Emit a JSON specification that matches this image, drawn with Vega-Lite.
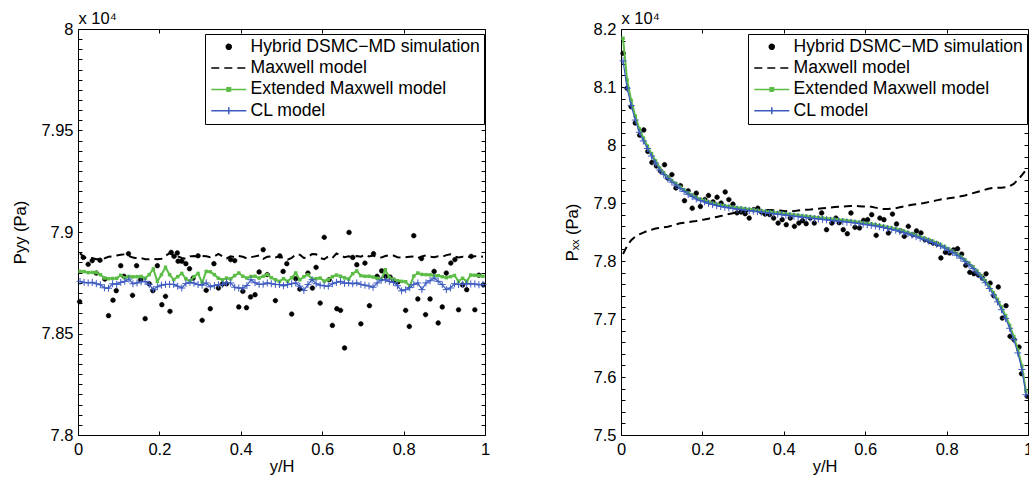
{
"$schema":"https://vega.github.io/schema/vega-lite/v6.json",
"padding":{"left":12,"top":10,"right":0,"bottom":0},
"config":{"font":"Liberation Sans","view":{"stroke":null},
"axis":{"grid":false,"labelColor":"black","titleColor":"black","domainColor":"black","tickColor":"black","labelFontSize":16.5,"titleFontSize":16.5,"titleFontWeight":"normal","labelFont":"Liberation Sans","titleFont":"Liberation Sans","domainWidth":1,"tickWidth":1,"labelOverlap":false,"labelBound":false,"labelFlush":false},
"legend":{"strokeColor":"black","fillColor":"white","padding":4,"labelFontSize":17.6,"labelColor":"black","labelFont":"Liberation Sans","rowPadding":2.3,"symbolOffset":11,"labelOffset":13,"symbolSize":100,"labelLimit":400,"symbolStrokeWidth":1.5,"symbolOpacity":1}},
"datasets":{
"yyPts":[{"s":"Hybrid DSMC−MD simulation","x":0.004,"p":7.8657},{"s":"Hybrid DSMC−MD simulation","x":0.013,"p":7.8875},{"s":"Hybrid DSMC−MD simulation","x":0.025,"p":7.8841},{"s":"Hybrid DSMC−MD simulation","x":0.035,"p":7.8859},{"s":"Hybrid DSMC−MD simulation","x":0.045,"p":7.8798},{"s":"Hybrid DSMC−MD simulation","x":0.054,"p":7.8861},{"s":"Hybrid DSMC−MD simulation","x":0.066,"p":7.8768},{"s":"Hybrid DSMC−MD simulation","x":0.075,"p":7.8588},{"s":"Hybrid DSMC−MD simulation","x":0.086,"p":7.8664},{"s":"Hybrid DSMC−MD simulation","x":0.094,"p":7.8711},{"s":"Hybrid DSMC−MD simulation","x":0.105,"p":7.8834},{"s":"Hybrid DSMC−MD simulation","x":0.113,"p":7.8782},{"s":"Hybrid DSMC−MD simulation","x":0.124,"p":7.8893},{"s":"Hybrid DSMC−MD simulation","x":0.134,"p":7.8688},{"s":"Hybrid DSMC−MD simulation","x":0.144,"p":7.8834},{"s":"Hybrid DSMC−MD simulation","x":0.154,"p":7.8765},{"s":"Hybrid DSMC−MD simulation","x":0.165,"p":7.8573},{"s":"Hybrid DSMC−MD simulation","x":0.175,"p":7.8745},{"s":"Hybrid DSMC−MD simulation","x":0.184,"p":7.8711},{"s":"Hybrid DSMC−MD simulation","x":0.195,"p":7.8834},{"s":"Hybrid DSMC−MD simulation","x":0.206,"p":7.8642},{"s":"Hybrid DSMC−MD simulation","x":0.215,"p":7.8683},{"s":"Hybrid DSMC−MD simulation","x":0.226,"p":7.8609},{"s":"Hybrid DSMC−MD simulation","x":0.229,"p":7.89},{"s":"Hybrid DSMC−MD simulation","x":0.236,"p":7.888},{"s":"Hybrid DSMC−MD simulation","x":0.244,"p":7.8897},{"s":"Hybrid DSMC−MD simulation","x":0.246,"p":7.8856},{"s":"Hybrid DSMC−MD simulation","x":0.255,"p":7.8856},{"s":"Hybrid DSMC−MD simulation","x":0.265,"p":7.8844},{"s":"Hybrid DSMC−MD simulation","x":0.274,"p":7.8819},{"s":"Hybrid DSMC−MD simulation","x":0.283,"p":7.8773},{"s":"Hybrid DSMC−MD simulation","x":0.295,"p":7.8883},{"s":"Hybrid DSMC−MD simulation","x":0.305,"p":7.8565},{"s":"Hybrid DSMC−MD simulation","x":0.315,"p":7.8713},{"s":"Hybrid DSMC−MD simulation","x":0.325,"p":7.8622},{"s":"Hybrid DSMC−MD simulation","x":0.334,"p":7.8844},{"s":"Hybrid DSMC−MD simulation","x":0.345,"p":7.8724},{"s":"Hybrid DSMC−MD simulation","x":0.355,"p":7.8744},{"s":"Hybrid DSMC−MD simulation","x":0.365,"p":7.8745},{"s":"Hybrid DSMC−MD simulation","x":0.375,"p":7.8864},{"s":"Hybrid DSMC−MD simulation","x":0.385,"p":7.8859},{"s":"Hybrid DSMC−MD simulation","x":0.395,"p":7.8631},{"s":"Hybrid DSMC−MD simulation","x":0.405,"p":7.8708},{"s":"Hybrid DSMC−MD simulation","x":0.414,"p":7.8627},{"s":"Hybrid DSMC−MD simulation","x":0.424,"p":7.868},{"s":"Hybrid DSMC−MD simulation","x":0.435,"p":7.8691},{"s":"Hybrid DSMC−MD simulation","x":0.445,"p":7.8803},{"s":"Hybrid DSMC−MD simulation","x":0.455,"p":7.8913},{"s":"Hybrid DSMC−MD simulation","x":0.465,"p":7.879},{"s":"Hybrid DSMC−MD simulation","x":0.485,"p":7.8662},{"s":"Hybrid DSMC−MD simulation","x":0.496,"p":7.8882},{"s":"Hybrid DSMC−MD simulation","x":0.504,"p":7.8806},{"s":"Hybrid DSMC−MD simulation","x":0.513,"p":7.8844},{"s":"Hybrid DSMC−MD simulation","x":0.525,"p":7.8596},{"s":"Hybrid DSMC−MD simulation","x":0.535,"p":7.877},{"s":"Hybrid DSMC−MD simulation","x":0.545,"p":7.8719},{"s":"Hybrid DSMC−MD simulation","x":0.565,"p":7.8798},{"s":"Hybrid DSMC−MD simulation","x":0.576,"p":7.8724},{"s":"Hybrid DSMC−MD simulation","x":0.585,"p":7.8826},{"s":"Hybrid DSMC−MD simulation","x":0.595,"p":7.865},{"s":"Hybrid DSMC−MD simulation","x":0.605,"p":7.8974},{"s":"Hybrid DSMC−MD simulation","x":0.617,"p":7.8765},{"s":"Hybrid DSMC−MD simulation","x":0.625,"p":7.854},{"s":"Hybrid DSMC−MD simulation","x":0.636,"p":7.8622},{"s":"Hybrid DSMC−MD simulation","x":0.645,"p":7.8614},{"s":"Hybrid DSMC−MD simulation","x":0.655,"p":7.8429},{"s":"Hybrid DSMC−MD simulation","x":0.666,"p":7.8998},{"s":"Hybrid DSMC−MD simulation","x":0.675,"p":7.8875},{"s":"Hybrid DSMC−MD simulation","x":0.685,"p":7.8839},{"s":"Hybrid DSMC−MD simulation","x":0.695,"p":7.8548},{"s":"Hybrid DSMC−MD simulation","x":0.705,"p":7.8847},{"s":"Hybrid DSMC−MD simulation","x":0.716,"p":7.8637},{"s":"Hybrid DSMC−MD simulation","x":0.726,"p":7.8893},{"s":"Hybrid DSMC−MD simulation","x":0.735,"p":7.8782},{"s":"Hybrid DSMC−MD simulation","x":0.746,"p":7.8809},{"s":"Hybrid DSMC−MD simulation","x":0.756,"p":7.8782},{"s":"Hybrid DSMC−MD simulation","x":0.767,"p":7.8778},{"s":"Hybrid DSMC−MD simulation","x":0.776,"p":7.8762},{"s":"Hybrid DSMC−MD simulation","x":0.786,"p":7.8754},{"s":"Hybrid DSMC−MD simulation","x":0.805,"p":7.8614},{"s":"Hybrid DSMC−MD simulation","x":0.814,"p":7.8535},{"s":"Hybrid DSMC−MD simulation","x":0.825,"p":7.8982},{"s":"Hybrid DSMC−MD simulation","x":0.835,"p":7.867},{"s":"Hybrid DSMC−MD simulation","x":0.844,"p":7.8869},{"s":"Hybrid DSMC−MD simulation","x":0.854,"p":7.8593},{"s":"Hybrid DSMC−MD simulation","x":0.865,"p":7.867},{"s":"Hybrid DSMC−MD simulation","x":0.875,"p":7.8806},{"s":"Hybrid DSMC−MD simulation","x":0.885,"p":7.8552},{"s":"Hybrid DSMC−MD simulation","x":0.895,"p":7.8631},{"s":"Hybrid DSMC−MD simulation","x":0.905,"p":7.8798},{"s":"Hybrid DSMC−MD simulation","x":0.916,"p":7.8847},{"s":"Hybrid DSMC−MD simulation","x":0.926,"p":7.8864},{"s":"Hybrid DSMC−MD simulation","x":0.935,"p":7.8617},{"s":"Hybrid DSMC−MD simulation","x":0.945,"p":7.8739},{"s":"Hybrid DSMC−MD simulation","x":0.955,"p":7.8716},{"s":"Hybrid DSMC−MD simulation","x":0.966,"p":7.888},{"s":"Hybrid DSMC−MD simulation","x":0.975,"p":7.8617},{"s":"Hybrid DSMC−MD simulation","x":0.985,"p":7.8787},{"s":"Hybrid DSMC−MD simulation","x":0.996,"p":7.874}],
"yyMax":[{"x":0.005,"p":7.8895},{"x":0.015,"p":7.8875},{"x":0.025,"p":7.8868},{"x":0.035,"p":7.8872},{"x":0.045,"p":7.8866},{"x":0.055,"p":7.8868},{"x":0.065,"p":7.887},{"x":0.075,"p":7.8878},{"x":0.085,"p":7.888},{"x":0.095,"p":7.8884},{"x":0.105,"p":7.8888},{"x":0.115,"p":7.889},{"x":0.125,"p":7.8882},{"x":0.135,"p":7.8874},{"x":0.145,"p":7.887},{"x":0.155,"p":7.8872},{"x":0.165,"p":7.8866},{"x":0.175,"p":7.8866},{"x":0.185,"p":7.8868},{"x":0.195,"p":7.8866},{"x":0.205,"p":7.8868},{"x":0.215,"p":7.8882},{"x":0.225,"p":7.8896},{"x":0.235,"p":7.8884},{"x":0.245,"p":7.888},{"x":0.255,"p":7.8872},{"x":0.265,"p":7.8868},{"x":0.275,"p":7.888},{"x":0.285,"p":7.8882},{"x":0.295,"p":7.8878},{"x":0.305,"p":7.8882},{"x":0.315,"p":7.888},{"x":0.325,"p":7.8876},{"x":0.335,"p":7.888},{"x":0.345,"p":7.8892},{"x":0.355,"p":7.888},{"x":0.365,"p":7.887},{"x":0.375,"p":7.888},{"x":0.385,"p":7.8876},{"x":0.395,"p":7.8882},{"x":0.405,"p":7.8878},{"x":0.415,"p":7.887},{"x":0.425,"p":7.8876},{"x":0.435,"p":7.888},{"x":0.445,"p":7.8884},{"x":0.455,"p":7.8868},{"x":0.465,"p":7.8878},{"x":0.475,"p":7.888},{"x":0.485,"p":7.8874},{"x":0.495,"p":7.888},{"x":0.505,"p":7.887},{"x":0.515,"p":7.8864},{"x":0.525,"p":7.8872},{"x":0.535,"p":7.889},{"x":0.545,"p":7.8888},{"x":0.555,"p":7.8872},{"x":0.565,"p":7.8876},{"x":0.575,"p":7.8892},{"x":0.585,"p":7.889},{"x":0.595,"p":7.8872},{"x":0.605,"p":7.8866},{"x":0.615,"p":7.888},{"x":0.625,"p":7.8872},{"x":0.635,"p":7.8894},{"x":0.645,"p":7.8884},{"x":0.655,"p":7.8876},{"x":0.665,"p":7.888},{"x":0.675,"p":7.8876},{"x":0.685,"p":7.8882},{"x":0.695,"p":7.8878},{"x":0.705,"p":7.8888},{"x":0.715,"p":7.888},{"x":0.725,"p":7.8884},{"x":0.735,"p":7.8878},{"x":0.745,"p":7.8874},{"x":0.755,"p":7.8882},{"x":0.765,"p":7.8886},{"x":0.775,"p":7.8884},{"x":0.785,"p":7.8876},{"x":0.795,"p":7.8874},{"x":0.805,"p":7.8876},{"x":0.815,"p":7.8878},{"x":0.825,"p":7.888},{"x":0.835,"p":7.8872},{"x":0.845,"p":7.888},{"x":0.855,"p":7.8884},{"x":0.865,"p":7.8878},{"x":0.875,"p":7.8876},{"x":0.885,"p":7.888},{"x":0.895,"p":7.8878},{"x":0.905,"p":7.8886},{"x":0.915,"p":7.889},{"x":0.925,"p":7.888},{"x":0.935,"p":7.8874},{"x":0.945,"p":7.8878},{"x":0.955,"p":7.8876},{"x":0.965,"p":7.8878},{"x":0.975,"p":7.888},{"x":0.985,"p":7.8882},{"x":0.995,"p":7.8878}],
"yyExt":[{"x":0.005,"p":7.8806},{"x":0.015,"p":7.8805},{"x":0.025,"p":7.88},{"x":0.035,"p":7.8801},{"x":0.045,"p":7.88},{"x":0.055,"p":7.879},{"x":0.065,"p":7.8773},{"x":0.075,"p":7.877},{"x":0.085,"p":7.8771},{"x":0.095,"p":7.8772},{"x":0.105,"p":7.8787},{"x":0.115,"p":7.8774},{"x":0.125,"p":7.8781},{"x":0.135,"p":7.8779},{"x":0.145,"p":7.878},{"x":0.155,"p":7.8781},{"x":0.165,"p":7.8772},{"x":0.175,"p":7.879},{"x":0.185,"p":7.8818},{"x":0.195,"p":7.8757},{"x":0.205,"p":7.879},{"x":0.215,"p":7.8826},{"x":0.225,"p":7.879},{"x":0.235,"p":7.8765},{"x":0.245,"p":7.878},{"x":0.255,"p":7.8796},{"x":0.265,"p":7.877},{"x":0.275,"p":7.8757},{"x":0.285,"p":7.878},{"x":0.295,"p":7.8796},{"x":0.305,"p":7.875},{"x":0.315,"p":7.8806},{"x":0.325,"p":7.8804},{"x":0.335,"p":7.879},{"x":0.345,"p":7.8772},{"x":0.355,"p":7.8765},{"x":0.365,"p":7.8773},{"x":0.375,"p":7.8769},{"x":0.385,"p":7.8785},{"x":0.395,"p":7.8798},{"x":0.405,"p":7.8782},{"x":0.415,"p":7.8773},{"x":0.425,"p":7.8781},{"x":0.435,"p":7.8782},{"x":0.445,"p":7.8773},{"x":0.455,"p":7.8782},{"x":0.465,"p":7.879},{"x":0.475,"p":7.8775},{"x":0.485,"p":7.8765},{"x":0.495,"p":7.8757},{"x":0.505,"p":7.877},{"x":0.515,"p":7.8757},{"x":0.525,"p":7.8775},{"x":0.535,"p":7.8798},{"x":0.545,"p":7.8765},{"x":0.555,"p":7.878},{"x":0.565,"p":7.879},{"x":0.575,"p":7.8768},{"x":0.585,"p":7.877},{"x":0.595,"p":7.8773},{"x":0.605,"p":7.8758},{"x":0.615,"p":7.8766},{"x":0.625,"p":7.878},{"x":0.635,"p":7.8788},{"x":0.645,"p":7.8782},{"x":0.655,"p":7.8774},{"x":0.665,"p":7.8768},{"x":0.675,"p":7.8795},{"x":0.685,"p":7.8808},{"x":0.695,"p":7.8785},{"x":0.705,"p":7.8782},{"x":0.715,"p":7.8782},{"x":0.725,"p":7.8778},{"x":0.735,"p":7.8772},{"x":0.745,"p":7.8766},{"x":0.755,"p":7.8814},{"x":0.765,"p":7.8776},{"x":0.775,"p":7.8767},{"x":0.785,"p":7.876},{"x":0.795,"p":7.8757},{"x":0.805,"p":7.8755},{"x":0.815,"p":7.8733},{"x":0.825,"p":7.8783},{"x":0.835,"p":7.8798},{"x":0.845,"p":7.8791},{"x":0.855,"p":7.879},{"x":0.865,"p":7.8789},{"x":0.875,"p":7.8785},{"x":0.885,"p":7.8785},{"x":0.895,"p":7.878},{"x":0.905,"p":7.8775},{"x":0.915,"p":7.878},{"x":0.925,"p":7.8786},{"x":0.935,"p":7.8757},{"x":0.945,"p":7.8772},{"x":0.955,"p":7.8757},{"x":0.965,"p":7.8788},{"x":0.975,"p":7.8787},{"x":0.985,"p":7.8785},{"x":0.995,"p":7.8782}],
"yyCL":[{"x":0.005,"p":7.8757},{"x":0.015,"p":7.8752},{"x":0.025,"p":7.8749},{"x":0.035,"p":7.8752},{"x":0.045,"p":7.8745},{"x":0.055,"p":7.874},{"x":0.065,"p":7.8725},{"x":0.075,"p":7.8723},{"x":0.085,"p":7.8745},{"x":0.095,"p":7.8742},{"x":0.105,"p":7.8752},{"x":0.115,"p":7.8757},{"x":0.125,"p":7.8768},{"x":0.135,"p":7.8745},{"x":0.145,"p":7.8749},{"x":0.155,"p":7.8755},{"x":0.165,"p":7.8757},{"x":0.175,"p":7.8742},{"x":0.185,"p":7.8716},{"x":0.195,"p":7.873},{"x":0.205,"p":7.8738},{"x":0.215,"p":7.8742},{"x":0.225,"p":7.8742},{"x":0.235,"p":7.8742},{"x":0.245,"p":7.8733},{"x":0.255,"p":7.8724},{"x":0.265,"p":7.8746},{"x":0.275,"p":7.8752},{"x":0.285,"p":7.8748},{"x":0.295,"p":7.8741},{"x":0.305,"p":7.8738},{"x":0.315,"p":7.8749},{"x":0.325,"p":7.873},{"x":0.335,"p":7.8736},{"x":0.345,"p":7.874},{"x":0.355,"p":7.8742},{"x":0.365,"p":7.8751},{"x":0.375,"p":7.8749},{"x":0.385,"p":7.8728},{"x":0.395,"p":7.8724},{"x":0.405,"p":7.8724},{"x":0.415,"p":7.8736},{"x":0.425,"p":7.8765},{"x":0.435,"p":7.875},{"x":0.445,"p":7.8742},{"x":0.455,"p":7.8743},{"x":0.465,"p":7.8749},{"x":0.475,"p":7.8745},{"x":0.485,"p":7.8742},{"x":0.495,"p":7.8741},{"x":0.505,"p":7.8735},{"x":0.515,"p":7.8741},{"x":0.525,"p":7.8745},{"x":0.535,"p":7.8749},{"x":0.545,"p":7.8733},{"x":0.555,"p":7.8712},{"x":0.565,"p":7.8741},{"x":0.575,"p":7.8765},{"x":0.585,"p":7.8745},{"x":0.595,"p":7.8738},{"x":0.605,"p":7.8735},{"x":0.615,"p":7.8733},{"x":0.625,"p":7.8745},{"x":0.635,"p":7.8752},{"x":0.645,"p":7.8757},{"x":0.655,"p":7.8747},{"x":0.665,"p":7.8749},{"x":0.675,"p":7.8745},{"x":0.685,"p":7.8749},{"x":0.695,"p":7.8742},{"x":0.705,"p":7.8738},{"x":0.715,"p":7.8734},{"x":0.725,"p":7.8728},{"x":0.735,"p":7.8749},{"x":0.745,"p":7.8763},{"x":0.755,"p":7.8765},{"x":0.765,"p":7.8757},{"x":0.775,"p":7.8752},{"x":0.785,"p":7.8735},{"x":0.795,"p":7.871},{"x":0.805,"p":7.8716},{"x":0.815,"p":7.8726},{"x":0.825,"p":7.8742},{"x":0.835,"p":7.8749},{"x":0.845,"p":7.8716},{"x":0.855,"p":7.8749},{"x":0.865,"p":7.876},{"x":0.875,"p":7.8773},{"x":0.885,"p":7.8757},{"x":0.895,"p":7.8741},{"x":0.905,"p":7.8716},{"x":0.915,"p":7.8724},{"x":0.925,"p":7.8745},{"x":0.935,"p":7.8741},{"x":0.945,"p":7.8743},{"x":0.955,"p":7.8745},{"x":0.965,"p":7.8744},{"x":0.975,"p":7.8744},{"x":0.985,"p":7.874},{"x":0.995,"p":7.8742}],
"xxPts":[{"s":"Hybrid DSMC−MD simulation","x":0.005,"p":8.158},{"s":"Hybrid DSMC−MD simulation","x":0.015,"p":8.098},{"s":"Hybrid DSMC−MD simulation","x":0.025,"p":8.066},{"s":"Hybrid DSMC−MD simulation","x":0.035,"p":8.038},{"s":"Hybrid DSMC−MD simulation","x":0.046,"p":8.017},{"s":"Hybrid DSMC−MD simulation","x":0.056,"p":8.026},{"s":"Hybrid DSMC−MD simulation","x":0.066,"p":7.989},{"s":"Hybrid DSMC−MD simulation","x":0.076,"p":7.97},{"s":"Hybrid DSMC−MD simulation","x":0.087,"p":7.964},{"s":"Hybrid DSMC−MD simulation","x":0.097,"p":7.955},{"s":"Hybrid DSMC−MD simulation","x":0.107,"p":7.966},{"s":"Hybrid DSMC−MD simulation","x":0.115,"p":7.943},{"s":"Hybrid DSMC−MD simulation","x":0.125,"p":7.949},{"s":"Hybrid DSMC−MD simulation","x":0.135,"p":7.926},{"s":"Hybrid DSMC−MD simulation","x":0.146,"p":7.93},{"s":"Hybrid DSMC−MD simulation","x":0.156,"p":7.904},{"s":"Hybrid DSMC−MD simulation","x":0.165,"p":7.921},{"s":"Hybrid DSMC−MD simulation","x":0.175,"p":7.891},{"s":"Hybrid DSMC−MD simulation","x":0.185,"p":7.917},{"s":"Hybrid DSMC−MD simulation","x":0.195,"p":7.894},{"s":"Hybrid DSMC−MD simulation","x":0.206,"p":7.906},{"s":"Hybrid DSMC−MD simulation","x":0.215,"p":7.913},{"s":"Hybrid DSMC−MD simulation","x":0.226,"p":7.902},{"s":"Hybrid DSMC−MD simulation","x":0.236,"p":7.91},{"s":"Hybrid DSMC−MD simulation","x":0.246,"p":7.9},{"s":"Hybrid DSMC−MD simulation","x":0.256,"p":7.919},{"s":"Hybrid DSMC−MD simulation","x":0.265,"p":7.906},{"s":"Hybrid DSMC−MD simulation","x":0.275,"p":7.898},{"s":"Hybrid DSMC−MD simulation","x":0.285,"p":7.883},{"s":"Hybrid DSMC−MD simulation","x":0.295,"p":7.8845},{"s":"Hybrid DSMC−MD simulation","x":0.305,"p":7.8816},{"s":"Hybrid DSMC−MD simulation","x":0.315,"p":7.874},{"s":"Hybrid DSMC−MD simulation","x":0.326,"p":7.8885},{"s":"Hybrid DSMC−MD simulation","x":0.336,"p":7.891},{"s":"Hybrid DSMC−MD simulation","x":0.345,"p":7.8845},{"s":"Hybrid DSMC−MD simulation","x":0.354,"p":7.881},{"s":"Hybrid DSMC−MD simulation","x":0.365,"p":7.88},{"s":"Hybrid DSMC−MD simulation","x":0.375,"p":7.874},{"s":"Hybrid DSMC−MD simulation","x":0.386,"p":7.8655},{"s":"Hybrid DSMC−MD simulation","x":0.396,"p":7.8713},{"s":"Hybrid DSMC−MD simulation","x":0.406,"p":7.8626},{"s":"Hybrid DSMC−MD simulation","x":0.416,"p":7.8741},{"s":"Hybrid DSMC−MD simulation","x":0.426,"p":7.8598},{"s":"Hybrid DSMC−MD simulation","x":0.437,"p":7.8655},{"s":"Hybrid DSMC−MD simulation","x":0.446,"p":7.8695},{"s":"Hybrid DSMC−MD simulation","x":0.455,"p":7.8643},{"s":"Hybrid DSMC−MD simulation","x":0.465,"p":7.8741},{"s":"Hybrid DSMC−MD simulation","x":0.475,"p":7.8655},{"s":"Hybrid DSMC−MD simulation","x":0.493,"p":7.8828},{"s":"Hybrid DSMC−MD simulation","x":0.505,"p":7.854},{"s":"Hybrid DSMC−MD simulation","x":0.518,"p":7.8655},{"s":"Hybrid DSMC−MD simulation","x":0.528,"p":7.8741},{"s":"Hybrid DSMC−MD simulation","x":0.536,"p":7.866},{"s":"Hybrid DSMC−MD simulation","x":0.546,"p":7.854},{"s":"Hybrid DSMC−MD simulation","x":0.556,"p":7.847},{"s":"Hybrid DSMC−MD simulation","x":0.565,"p":7.8828},{"s":"Hybrid DSMC−MD simulation","x":0.575,"p":7.858},{"s":"Hybrid DSMC−MD simulation","x":0.586,"p":7.857},{"s":"Hybrid DSMC−MD simulation","x":0.596,"p":7.87},{"s":"Hybrid DSMC−MD simulation","x":0.606,"p":7.8713},{"s":"Hybrid DSMC−MD simulation","x":0.616,"p":7.8799},{"s":"Hybrid DSMC−MD simulation","x":0.627,"p":7.8443},{"s":"Hybrid DSMC−MD simulation","x":0.636,"p":7.8741},{"s":"Hybrid DSMC−MD simulation","x":0.646,"p":7.8713},{"s":"Hybrid DSMC−MD simulation","x":0.657,"p":7.8483},{"s":"Hybrid DSMC−MD simulation","x":0.667,"p":7.881},{"s":"Hybrid DSMC−MD simulation","x":0.677,"p":7.8638},{"s":"Hybrid DSMC−MD simulation","x":0.687,"p":7.852},{"s":"Hybrid DSMC−MD simulation","x":0.696,"p":7.8425},{"s":"Hybrid DSMC−MD simulation","x":0.706,"p":7.8598},{"s":"Hybrid DSMC−MD simulation","x":0.717,"p":7.8453},{"s":"Hybrid DSMC−MD simulation","x":0.726,"p":7.852},{"s":"Hybrid DSMC−MD simulation","x":0.737,"p":7.8483},{"s":"Hybrid DSMC−MD simulation","x":0.747,"p":7.8368},{"s":"Hybrid DSMC−MD simulation","x":0.758,"p":7.834},{"s":"Hybrid DSMC−MD simulation","x":0.767,"p":7.831},{"s":"Hybrid DSMC−MD simulation","x":0.777,"p":7.8293},{"s":"Hybrid DSMC−MD simulation","x":0.786,"p":7.8052},{"s":"Hybrid DSMC−MD simulation","x":0.797,"p":7.815},{"s":"Hybrid DSMC−MD simulation","x":0.807,"p":7.8138},{"s":"Hybrid DSMC−MD simulation","x":0.817,"p":7.819},{"s":"Hybrid DSMC−MD simulation","x":0.827,"p":7.8212},{"s":"Hybrid DSMC−MD simulation","x":0.837,"p":7.812},{"s":"Hybrid DSMC−MD simulation","x":0.847,"p":7.7925},{"s":"Hybrid DSMC−MD simulation","x":0.857,"p":7.7805},{"s":"Hybrid DSMC−MD simulation","x":0.867,"p":7.7782},{"s":"Hybrid DSMC−MD simulation","x":0.878,"p":7.776},{"s":"Hybrid DSMC−MD simulation","x":0.888,"p":7.7707},{"s":"Hybrid DSMC−MD simulation","x":0.897,"p":7.778},{"s":"Hybrid DSMC−MD simulation","x":0.907,"p":7.762},{"s":"Hybrid DSMC−MD simulation","x":0.916,"p":7.7402},{"s":"Hybrid DSMC−MD simulation","x":0.927,"p":7.7552},{"s":"Hybrid DSMC−MD simulation","x":0.937,"p":7.7017},{"s":"Hybrid DSMC−MD simulation","x":0.946,"p":7.7229},{"s":"Hybrid DSMC−MD simulation","x":0.956,"p":7.6701},{"s":"Hybrid DSMC−MD simulation","x":0.966,"p":7.6644},{"s":"Hybrid DSMC−MD simulation","x":0.978,"p":7.6517},{"s":"Hybrid DSMC−MD simulation","x":0.984,"p":7.6057},{"s":"Hybrid DSMC−MD simulation","x":0.998,"p":7.5667}],
"xxMax":[{"x":0.005,"p":7.812},{"x":0.015,"p":7.826},{"x":0.025,"p":7.836},{"x":0.035,"p":7.842},{"x":0.045,"p":7.846},{"x":0.055,"p":7.849},{"x":0.065,"p":7.852},{"x":0.075,"p":7.854},{"x":0.085,"p":7.856},{"x":0.095,"p":7.857},{"x":0.105,"p":7.858},{"x":0.115,"p":7.859},{"x":0.125,"p":7.861},{"x":0.135,"p":7.863},{"x":0.145,"p":7.865},{"x":0.155,"p":7.866},{"x":0.165,"p":7.867},{"x":0.175,"p":7.868},{"x":0.185,"p":7.869},{"x":0.195,"p":7.8705},{"x":0.205,"p":7.8715},{"x":0.215,"p":7.873},{"x":0.225,"p":7.8745},{"x":0.235,"p":7.876},{"x":0.245,"p":7.8775},{"x":0.255,"p":7.879},{"x":0.265,"p":7.881},{"x":0.275,"p":7.8825},{"x":0.285,"p":7.884},{"x":0.295,"p":7.8852},{"x":0.305,"p":7.886},{"x":0.315,"p":7.8865},{"x":0.325,"p":7.887},{"x":0.335,"p":7.8872},{"x":0.345,"p":7.8875},{"x":0.355,"p":7.8877},{"x":0.365,"p":7.8878},{"x":0.375,"p":7.8876},{"x":0.385,"p":7.8874},{"x":0.395,"p":7.8868},{"x":0.405,"p":7.886},{"x":0.415,"p":7.8855},{"x":0.425,"p":7.886},{"x":0.435,"p":7.887},{"x":0.445,"p":7.888},{"x":0.455,"p":7.8885},{"x":0.465,"p":7.8888},{"x":0.475,"p":7.8895},{"x":0.485,"p":7.89},{"x":0.495,"p":7.8908},{"x":0.505,"p":7.8915},{"x":0.515,"p":7.8922},{"x":0.525,"p":7.893},{"x":0.535,"p":7.8935},{"x":0.545,"p":7.894},{"x":0.555,"p":7.8945},{"x":0.565,"p":7.8948},{"x":0.575,"p":7.8948},{"x":0.585,"p":7.8945},{"x":0.595,"p":7.894},{"x":0.605,"p":7.8942},{"x":0.615,"p":7.8935},{"x":0.625,"p":7.892},{"x":0.635,"p":7.8905},{"x":0.645,"p":7.8895},{"x":0.655,"p":7.8895},{"x":0.665,"p":7.89},{"x":0.675,"p":7.891},{"x":0.685,"p":7.8925},{"x":0.695,"p":7.894},{"x":0.705,"p":7.8955},{"x":0.715,"p":7.897},{"x":0.725,"p":7.898},{"x":0.735,"p":7.899},{"x":0.745,"p":7.9},{"x":0.755,"p":7.9015},{"x":0.765,"p":7.903},{"x":0.775,"p":7.9045},{"x":0.785,"p":7.906},{"x":0.795,"p":7.907},{"x":0.805,"p":7.908},{"x":0.815,"p":7.909},{"x":0.825,"p":7.91},{"x":0.835,"p":7.9115},{"x":0.845,"p":7.913},{"x":0.855,"p":7.915},{"x":0.865,"p":7.917},{"x":0.875,"p":7.919},{"x":0.885,"p":7.921},{"x":0.895,"p":7.923},{"x":0.905,"p":7.925},{"x":0.915,"p":7.926},{"x":0.925,"p":7.9265},{"x":0.935,"p":7.9265},{"x":0.945,"p":7.927},{"x":0.955,"p":7.929},{"x":0.965,"p":7.933},{"x":0.975,"p":7.94},{"x":0.985,"p":7.948},{"x":0.995,"p":7.957}],
"xxExt":[{"x":0.005,"p":8.184},{"x":0.015,"p":8.112},{"x":0.025,"p":8.077},{"x":0.035,"p":8.05},{"x":0.045,"p":8.028},{"x":0.055,"p":8.012},{"x":0.065,"p":7.998},{"x":0.075,"p":7.985},{"x":0.085,"p":7.9725},{"x":0.095,"p":7.9605},{"x":0.105,"p":7.952},{"x":0.115,"p":7.9445},{"x":0.125,"p":7.9385},{"x":0.135,"p":7.9335},{"x":0.145,"p":7.9275},{"x":0.155,"p":7.9225},{"x":0.165,"p":7.9175},{"x":0.175,"p":7.9135},{"x":0.185,"p":7.9095},{"x":0.195,"p":7.9065},{"x":0.205,"p":7.9043},{"x":0.215,"p":7.9018},{"x":0.225,"p":7.8998},{"x":0.235,"p":7.8978},{"x":0.245,"p":7.8963},{"x":0.255,"p":7.8951},{"x":0.265,"p":7.894},{"x":0.275,"p":7.8928},{"x":0.285,"p":7.8918},{"x":0.295,"p":7.8911},{"x":0.305,"p":7.8901},{"x":0.315,"p":7.8891},{"x":0.325,"p":7.8883},{"x":0.335,"p":7.8873},{"x":0.345,"p":7.8865},{"x":0.355,"p":7.8855},{"x":0.365,"p":7.8848},{"x":0.375,"p":7.8838},{"x":0.385,"p":7.8831},{"x":0.395,"p":7.8821},{"x":0.405,"p":7.8813},{"x":0.415,"p":7.8805},{"x":0.425,"p":7.8795},{"x":0.435,"p":7.8788},{"x":0.445,"p":7.8778},{"x":0.455,"p":7.8771},{"x":0.465,"p":7.8763},{"x":0.475,"p":7.8755},{"x":0.485,"p":7.8748},{"x":0.495,"p":7.8741},{"x":0.505,"p":7.8733},{"x":0.515,"p":7.8725},{"x":0.525,"p":7.8718},{"x":0.535,"p":7.8711},{"x":0.545,"p":7.8703},{"x":0.555,"p":7.8695},{"x":0.565,"p":7.8688},{"x":0.575,"p":7.8678},{"x":0.585,"p":7.8668},{"x":0.595,"p":7.8658},{"x":0.605,"p":7.8648},{"x":0.615,"p":7.8638},{"x":0.625,"p":7.8628},{"x":0.635,"p":7.8613},{"x":0.645,"p":7.8598},{"x":0.655,"p":7.8583},{"x":0.665,"p":7.8568},{"x":0.675,"p":7.8553},{"x":0.685,"p":7.8533},{"x":0.695,"p":7.8513},{"x":0.705,"p":7.8491},{"x":0.715,"p":7.8468},{"x":0.725,"p":7.8443},{"x":0.735,"p":7.8418},{"x":0.745,"p":7.8393},{"x":0.755,"p":7.8368},{"x":0.765,"p":7.8343},{"x":0.775,"p":7.8313},{"x":0.785,"p":7.8283},{"x":0.795,"p":7.8248},{"x":0.805,"p":7.8208},{"x":0.815,"p":7.8168},{"x":0.825,"p":7.8125},{"x":0.835,"p":7.8075},{"x":0.845,"p":7.8022},{"x":0.855,"p":7.7963},{"x":0.865,"p":7.7899},{"x":0.875,"p":7.7826},{"x":0.885,"p":7.7748},{"x":0.895,"p":7.766},{"x":0.905,"p":7.7562},{"x":0.915,"p":7.7455},{"x":0.925,"p":7.7337},{"x":0.935,"p":7.7205},{"x":0.945,"p":7.7058},{"x":0.955,"p":7.689},{"x":0.965,"p":7.6698},{"x":0.975,"p":7.6472},{"x":0.985,"p":7.6192},{"x":0.995,"p":7.5755}],
"xxCL":[{"x":0.005,"p":8.145},{"x":0.015,"p":8.098},{"x":0.025,"p":8.068},{"x":0.035,"p":8.043},{"x":0.045,"p":8.022},{"x":0.055,"p":8.007},{"x":0.065,"p":7.994},{"x":0.075,"p":7.981},{"x":0.085,"p":7.969},{"x":0.095,"p":7.957},{"x":0.105,"p":7.949},{"x":0.115,"p":7.942},{"x":0.125,"p":7.936},{"x":0.135,"p":7.931},{"x":0.145,"p":7.925},{"x":0.155,"p":7.92},{"x":0.165,"p":7.915},{"x":0.175,"p":7.911},{"x":0.185,"p":7.907},{"x":0.195,"p":7.904},{"x":0.205,"p":7.902},{"x":0.215,"p":7.8995},{"x":0.225,"p":7.8975},{"x":0.235,"p":7.8955},{"x":0.245,"p":7.894},{"x":0.255,"p":7.8928},{"x":0.265,"p":7.8917},{"x":0.275,"p":7.8905},{"x":0.285,"p":7.8895},{"x":0.295,"p":7.8888},{"x":0.305,"p":7.8878},{"x":0.315,"p":7.8868},{"x":0.325,"p":7.886},{"x":0.335,"p":7.885},{"x":0.345,"p":7.8842},{"x":0.355,"p":7.8832},{"x":0.365,"p":7.8825},{"x":0.375,"p":7.8815},{"x":0.385,"p":7.8808},{"x":0.395,"p":7.8798},{"x":0.405,"p":7.879},{"x":0.415,"p":7.8782},{"x":0.425,"p":7.8772},{"x":0.435,"p":7.8765},{"x":0.445,"p":7.8755},{"x":0.455,"p":7.8748},{"x":0.465,"p":7.874},{"x":0.475,"p":7.8732},{"x":0.485,"p":7.8725},{"x":0.495,"p":7.8718},{"x":0.505,"p":7.871},{"x":0.515,"p":7.8702},{"x":0.525,"p":7.8695},{"x":0.535,"p":7.8688},{"x":0.545,"p":7.868},{"x":0.555,"p":7.8672},{"x":0.565,"p":7.8665},{"x":0.575,"p":7.8655},{"x":0.585,"p":7.8645},{"x":0.595,"p":7.8635},{"x":0.605,"p":7.8625},{"x":0.615,"p":7.8615},{"x":0.625,"p":7.8605},{"x":0.635,"p":7.859},{"x":0.645,"p":7.8575},{"x":0.655,"p":7.856},{"x":0.665,"p":7.8545},{"x":0.675,"p":7.853},{"x":0.685,"p":7.851},{"x":0.695,"p":7.849},{"x":0.705,"p":7.8468},{"x":0.715,"p":7.8445},{"x":0.725,"p":7.842},{"x":0.735,"p":7.8395},{"x":0.745,"p":7.837},{"x":0.755,"p":7.8345},{"x":0.765,"p":7.832},{"x":0.775,"p":7.829},{"x":0.785,"p":7.826},{"x":0.795,"p":7.8225},{"x":0.805,"p":7.8185},{"x":0.815,"p":7.8145},{"x":0.825,"p":7.81},{"x":0.835,"p":7.805},{"x":0.845,"p":7.7995},{"x":0.855,"p":7.7935},{"x":0.865,"p":7.787},{"x":0.875,"p":7.7795},{"x":0.885,"p":7.7715},{"x":0.895,"p":7.7625},{"x":0.905,"p":7.7525},{"x":0.915,"p":7.7415},{"x":0.925,"p":7.7295},{"x":0.935,"p":7.716},{"x":0.945,"p":7.701},{"x":0.955,"p":7.684},{"x":0.965,"p":7.6645},{"x":0.975,"p":7.6415},{"x":0.985,"p":7.613},{"x":0.995,"p":7.5695}]
},
"spacing":136,
"bounds":"flush",
"resolve":{"scale":{"fill":"independent","stroke":"independent","shape":"independent","strokeDash":"independent"},"legend":{"fill":"independent","stroke":"independent","shape":"independent","strokeDash":"independent"}},
"hconcat":[
{"width":407,"height":406,
"resolve":{"axis":{"x":"independent","y":"independent"}},
"layer":[
{"data":{"name":"yyPts"},"mark":{"type":"point","filled":true,"size":90,"opacity":1,"strokeWidth":0.5},
"encoding":{
"x":{"field":"x","type":"quantitative","scale":{"domain":[0,1],"nice":false,"zero":false},"axis":{"orient":"bottom","values":[0,0.2,0.4,0.6,0.8,1],"tickSize":-4,"labelPadding":10,"labelExpr":"format(datum.value,'~g')","title":"y/H","titlePadding":1}},
"y":{"field":"p","type":"quantitative","scale":{"domain":[7.8,8],"nice":false,"zero":false},"axis":{"orient":"left","values":[7.8,7.85,7.9,7.95,8],"ticks":false,"labelPadding":5,"labelExpr":"format(datum.value,'.3~f')","minExtent":40,"maxExtent":40,"title":"Pyy (Pa)","titlePadding":10}},
"fill":{"field":"s","type":"nominal","scale":{"domain":["Hybrid DSMC−MD simulation","Maxwell model","Extended Maxwell model","CL model"],"range":["black","black","#5bbd45","#3c5ac0"]},"legend":{"title":null,"orient":"none","legendX":127,"legendY":5}},
"stroke":{"field":"s","type":"nominal","scale":{"domain":["Hybrid DSMC−MD simulation","Maxwell model","Extended Maxwell model","CL model"],"range":["black","black","#5bbd45","#3c5ac0"]},"legend":{"title":null,"orient":"none","legendX":127,"legendY":5}},
"shape":{"field":"s","type":"nominal","scale":{"domain":["Hybrid DSMC−MD simulation","Maxwell model","Extended Maxwell model","CL model"],"range":["M0.5,0A0.5,0.5,0,1,1,-0.5,0A0.5,0.5,0,1,1,0.5,0Z","M-3.5,0H3.5","M-3.5,0H3.5M-0.35,-0.35H0.35V0.35H-0.35Z","M-3.5,0H3.5M0,-0.7V0.7"]},"legend":{"title":null,"orient":"none","legendX":127,"legendY":5}},
"strokeDash":{"field":"s","type":"nominal","scale":{"domain":["Hybrid DSMC−MD simulation","Maxwell model","Extended Maxwell model","CL model"],"range":[[1,0],[8,5],[1,0],[1,0]]},"legend":{"title":null,"orient":"none","legendX":127,"legendY":5}}}},
{"data":{"name":"yyMax"},"mark":{"type":"line","strokeDash":[8,5],"strokeWidth":2,"color":"black"},
"encoding":{
"x":{"field":"x","type":"quantitative","axis":{"orient":"top","values":[0,0.2,0.4,0.6,0.8,1],"tickSize":-4,"labels":false,"title":"x 10⁴","titleX":0,"titleY":-6,"titleAlign":"left","titleAnchor":"start","titleBaseline":"alphabetic","minExtent":0,"maxExtent":0}},
"y":{"field":"p","type":"quantitative","axis":{"orient":"right","values":[7.8,7.805,7.81,7.815,7.82,7.825,7.83,7.835,7.84,7.845,7.85,7.855,7.86,7.865,7.87,7.875,7.88,7.885,7.89,7.895,7.9,7.905,7.91,7.915,7.92,7.925,7.93,7.935,7.94,7.945,7.95,7.955,7.96,7.965,7.97,7.975,7.98,7.985,7.99,7.995,8],"tickSize":-4,"labels":false,"title":null,"minExtent":0,"maxExtent":0}}}},
{"data":{"name":"yyExt"},"mark":{"type":"line","strokeWidth":2,"color":"#5bbd45"},
"encoding":{
"x":{"field":"x","type":"quantitative","axis":null},
"y":{"field":"p","type":"quantitative","axis":{"orient":"left","values":[7.8,7.805,7.81,7.815,7.82,7.825,7.83,7.835,7.84,7.845,7.85,7.855,7.86,7.865,7.87,7.875,7.88,7.885,7.89,7.895,7.9,7.905,7.91,7.915,7.92,7.925,7.93,7.935,7.94,7.945,7.95,7.955,7.96,7.965,7.97,7.975,7.98,7.985,7.99,7.995,8],"tickSize":-4,"labels":false,"domain":false,"title":null,"minExtent":0,"maxExtent":0}}}},
{"data":{"name":"yyExt"},"mark":{"type":"point","shape":"square","filled":true,"size":12,"opacity":1,"color":"#5bbd45"},
"encoding":{"x":{"field":"x","type":"quantitative","axis":null},"y":{"field":"p","type":"quantitative","axis":null}}},
{"data":{"name":"yyCL"},"mark":{"type":"line","strokeWidth":1.2,"color":"#3c5ac0"},
"encoding":{"x":{"field":"x","type":"quantitative","axis":null},"y":{"field":"p","type":"quantitative","axis":null}}},
{"data":{"name":"yyCL"},"mark":{"type":"point","shape":"M-1,0H1M0,-1V1","filled":false,"size":49,"strokeWidth":1,"opacity":1,"color":"#3c5ac0"},
"encoding":{"x":{"field":"x","type":"quantitative","axis":null},"y":{"field":"p","type":"quantitative","axis":null}}}
]},
{"width":407,"height":406,
"resolve":{"axis":{"x":"independent","y":"independent"}},
"layer":[
{"data":{"name":"xxPts"},"mark":{"type":"point","filled":true,"size":90,"opacity":1,"strokeWidth":0.5},
"encoding":{
"x":{"field":"x","type":"quantitative","scale":{"domain":[0,1],"nice":false,"zero":false},"axis":{"orient":"bottom","values":[0,0.2,0.4,0.6,0.8,1],"tickSize":-4,"labelPadding":10,"labelExpr":"format(datum.value,'~g')","title":"y/H","titlePadding":1}},
"y":{"field":"p","type":"quantitative","scale":{"domain":[7.5,8.2],"nice":false,"zero":false},"axis":{"orient":"left","values":[7.5,7.6,7.7,7.8,7.9,8,8.1,8.2],"ticks":false,"labelPadding":5,"labelExpr":"format(datum.value,'.3~f')","minExtent":30,"maxExtent":30,"title":"Pₓₓ (Pa)","titlePadding":11}},
"fill":{"field":"s","type":"nominal","scale":{"domain":["Hybrid DSMC−MD simulation","Maxwell model","Extended Maxwell model","CL model"],"range":["black","black","#5bbd45","#3c5ac0"]},"legend":{"title":null,"orient":"none","legendX":127,"legendY":5}},
"stroke":{"field":"s","type":"nominal","scale":{"domain":["Hybrid DSMC−MD simulation","Maxwell model","Extended Maxwell model","CL model"],"range":["black","black","#5bbd45","#3c5ac0"]},"legend":{"title":null,"orient":"none","legendX":127,"legendY":5}},
"shape":{"field":"s","type":"nominal","scale":{"domain":["Hybrid DSMC−MD simulation","Maxwell model","Extended Maxwell model","CL model"],"range":["M0.5,0A0.5,0.5,0,1,1,-0.5,0A0.5,0.5,0,1,1,0.5,0Z","M-3.5,0H3.5","M-3.5,0H3.5M-0.35,-0.35H0.35V0.35H-0.35Z","M-3.5,0H3.5M0,-0.7V0.7"]},"legend":{"title":null,"orient":"none","legendX":127,"legendY":5}},
"strokeDash":{"field":"s","type":"nominal","scale":{"domain":["Hybrid DSMC−MD simulation","Maxwell model","Extended Maxwell model","CL model"],"range":[[1,0],[8,5],[1,0],[1,0]]},"legend":{"title":null,"orient":"none","legendX":127,"legendY":5}}}},
{"data":{"name":"xxMax"},"mark":{"type":"line","strokeDash":[8,5],"strokeWidth":2,"color":"black"},
"encoding":{
"x":{"field":"x","type":"quantitative","axis":{"orient":"top","values":[0,0.2,0.4,0.6,0.8,1],"tickSize":-4,"labels":false,"title":"x 10⁴","titleX":0,"titleY":-6,"titleAlign":"left","titleAnchor":"start","titleBaseline":"alphabetic","minExtent":0,"maxExtent":0}},
"y":{"field":"p","type":"quantitative","axis":{"orient":"right","values":[7.5,7.52,7.54,7.56,7.58,7.6,7.62,7.64,7.66,7.68,7.7,7.72,7.74,7.76,7.78,7.8,7.82,7.84,7.86,7.88,7.9,7.92,7.94,7.96,7.98,8,8.02,8.04,8.06,8.08,8.1,8.12,8.14,8.16,8.18,8.2],"tickSize":-4,"labels":false,"title":null,"minExtent":0,"maxExtent":0}}}},
{"data":{"name":"xxExt"},"mark":{"type":"line","strokeWidth":2,"color":"#5bbd45"},
"encoding":{
"x":{"field":"x","type":"quantitative","axis":null},
"y":{"field":"p","type":"quantitative","axis":{"orient":"left","values":[7.5,7.52,7.54,7.56,7.58,7.6,7.62,7.64,7.66,7.68,7.7,7.72,7.74,7.76,7.78,7.8,7.82,7.84,7.86,7.88,7.9,7.92,7.94,7.96,7.98,8,8.02,8.04,8.06,8.08,8.1,8.12,8.14,8.16,8.18,8.2],"tickSize":-4,"labels":false,"domain":false,"title":null,"minExtent":0,"maxExtent":0}}}},
{"data":{"name":"xxExt"},"mark":{"type":"point","shape":"square","filled":true,"size":12,"opacity":1,"color":"#5bbd45"},
"encoding":{"x":{"field":"x","type":"quantitative","axis":null},"y":{"field":"p","type":"quantitative","axis":null}}},
{"data":{"name":"xxCL"},"mark":{"type":"line","strokeWidth":1.2,"color":"#3c5ac0"},
"encoding":{"x":{"field":"x","type":"quantitative","axis":null},"y":{"field":"p","type":"quantitative","axis":null}}},
{"data":{"name":"xxCL"},"mark":{"type":"point","shape":"M-1,0H1M0,-1V1","filled":false,"size":49,"strokeWidth":1,"opacity":1,"color":"#3c5ac0"},
"encoding":{"x":{"field":"x","type":"quantitative","axis":null},"y":{"field":"p","type":"quantitative","axis":null}}}
]}
]
}
